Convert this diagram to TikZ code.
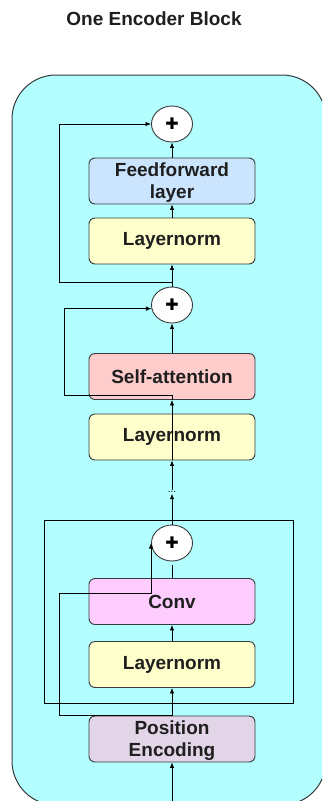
\documentclass[tikz,border=0pt]{standalone}
\usepackage{fontspec}
\setmainfont{Liberation Sans}
\newfontfamily\symfont{DejaVu Sans}
\usetikzlibrary{arrows.meta,shapes.geometric}
\definecolor{bgcyan}{HTML}{B3FFFF}
\definecolor{ffblue}{HTML}{CCE5FF}
\definecolor{lnyellow}{HTML}{FFFFCC}
\definecolor{sapink}{HTML}{FFCCCC}
\definecolor{convpink}{HTML}{FFCCFF}
\definecolor{pepurple}{HTML}{E1D5E7}
\definecolor{edge}{HTML}{36393D}
\begin{document}
\begin{tikzpicture}[x=1pt,y=-1pt,
  blk/.style={draw=edge, line width=0.9pt, rounded corners=6pt, minimum width=166pt,
    minimum height=46pt, inner sep=0pt, align=center, text=black!88,
    font=\bfseries\fontsize{19}{22}\selectfont},
  two/.style={text depth=-1.5pt},
  add/.style={ellipse, draw=edge, line width=0.9pt, fill=white, minimum width=41pt,
    minimum height=36pt, inner sep=0pt, font=\symfont\bfseries\fontsize{16}{16}\selectfont},
  arr/.style={-{Latex[length=5.5pt,width=4.5pt]}, line width=0.8pt},
  ln/.style={line width=0.8pt}]
\useasboundingbox (0,0) rectangle (322,801);
\begin{scope}
\clip (0,0) rectangle (322,801);
\draw[fill=bgcyan, draw=edge, line width=1pt, rounded corners=44pt] (12,75) rectangle (326,805);
\end{scope}
\node[anchor=base, font=\bfseries\fontsize{19}{22}\selectfont, text=black!88] (title) at (154,25) {One Encoder Block};
\draw[ln, draw=black] (44,520) rectangle (293,703);

\node[add] (c1) at (172,124) {✚};
\node[blk, two, fill=ffblue] (ff) at (172,181) {Feedforward\\layer};
\node[blk, fill=lnyellow] (ln1) at (172,241) {Layernorm};
\node[add] (c2) at (172,305) {✚};
\node[blk, fill=sapink] (sa) at (172,376.5) {Self-attention};
\node[blk, fill=lnyellow] (ln2) at (172,437) {Layernorm};
\node[font=\fontsize{10}{10}\selectfont, inner sep=1pt] (dots) at (172,492) {...};
\node[add] (c3) at (172,543) {✚};
\node[blk, fill=convpink] (conv) at (172,601.5) {Conv};
\node[blk, fill=lnyellow] (ln3) at (172,664.5) {Layernorm};
\node[blk, two, fill=pepurple] (pe) at (172,739) {Position\\Encoding};
\coordinate (in) at (172,801);

% connectors
\draw[arr] (in) -- (pe.south);
\draw[arr] (pe.north) -- (ln3.south);
\draw[arr] (pe.north) -| (59,593) -| (c3.west);
\draw[arr] (ln3.north) -- (conv.south);
\draw[ln] (conv.north) -- ([yshift=-4pt]c3.south);
\draw[arr] (c3.north) -- (dots.south);
\draw[arr] (dots.north) -- (ln2.south);
\draw[arr] (ln2.south) -- (sa.south);
\draw[arr] (sa.south) |- (64,395) |- (c2.190);
\draw[arr] (sa.north) -- (c2.south);
\draw[arr] (c2.north) -- (ln1.south);
\draw[arr] (c2.north) |- (59,282) |- (c1.west);
\draw[arr] (ln1.north) -- (ff.south);
\draw[arr] (ff.north) -- (c1.south);
\end{tikzpicture}
\end{document}
